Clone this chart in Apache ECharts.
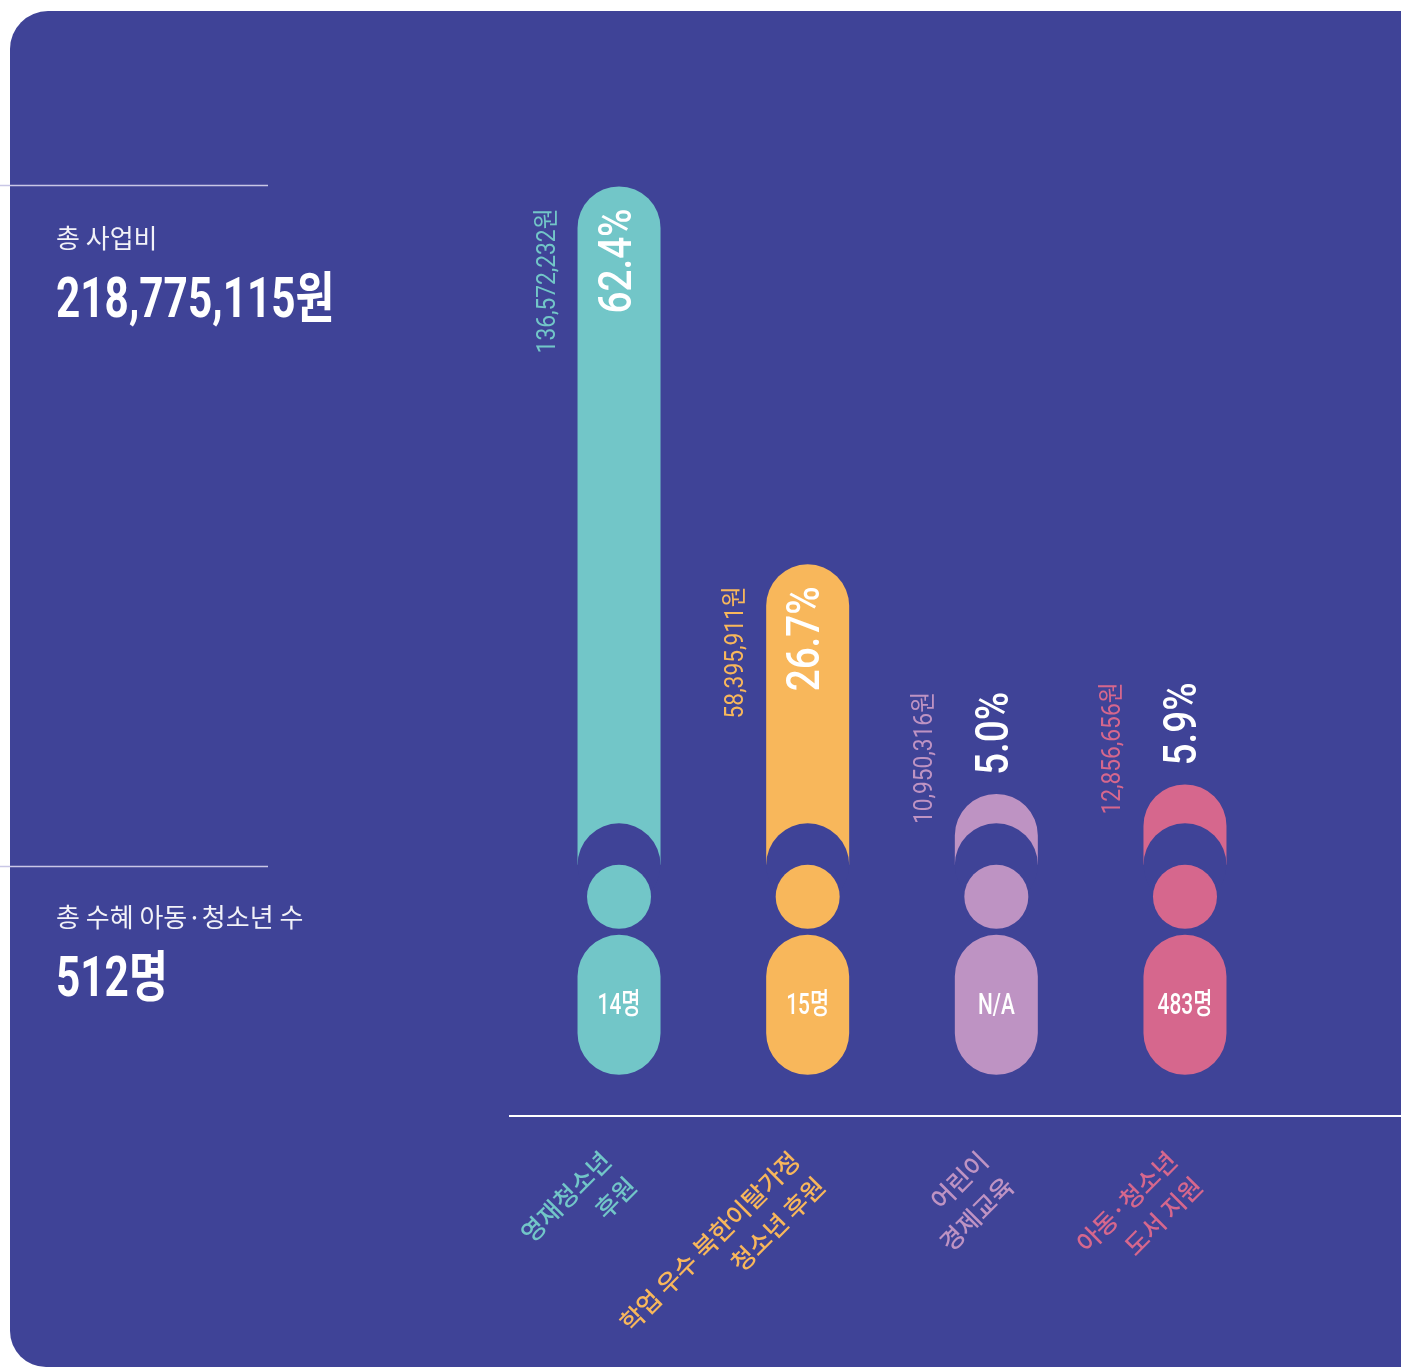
<!DOCTYPE html>
<html>
<head>
<meta charset="utf-8">
<script src="https://cdn.jsdelivr.net/npm/echarts@6.0.0/dist/echarts.min.js"></script>
<style>
  html, body { margin: 0; padding: 0; background: #fff; }
  #chart { width: 1401px; height: 1367px; }
</style>
</head>
<body>
<div id="chart"></div>
<script>
// 사업별 예산 비중
const categories = ['영재청소년\n후원', '학업 우수 북한이탈가정\n청소년 후원', '어린이\n경제교육', '아동·청소년\n도서 지원']
const shares = [62.4, 26.7, 5.0, 5.9]
const amounts = ['136,572,232원', '58,395,911원', '10,950,316원', '12,856,656원']
const people = ['14명', '15명', 'N/A', '483명']
const colors = ['#72C6C8', '#F8B75B', '#BE93C3', '#D6678D']

const BG = '#3F4397'
const NUM_FONT = 'Roboto, "Noto Sans CJK KR", sans-serif'
const KR_FONT = '"Noto Sans CJK KR", sans-serif'

const chart = echarts.init(document.getElementById('chart'))

function renderPerson (params, api) {
  const i = api.value(0)
  const v = api.value(1)
  const top = api.coord([i, v])
  const cx = top[0]
  const ty = top[1]
  const shoulder = api.coord([i, 0])[1] + 18
  const bw = api.size([1, 0])[0] * 0.44
  const r = bw / 2
  const color = colors[i]
  // tall bars carry their labels inside, short ones above
  const textTop = v > 20 ? ty + 22 : ty - 102

  return {
    type: 'group',
    children: [
      {
        type: 'rect',
        shape: { x: cx - r, y: ty, width: bw, height: shoulder - ty, r: [r, r, 0, 0] },
        style: { fill: color }
      },
      {
        type: 'circle',
        shape: { cx: cx, cy: shoulder, r: r },
        style: { fill: BG }
      },
      {
        type: 'circle',
        shape: { cx: cx, cy: shoulder + 32, r: 32 },
        style: { fill: color }
      },
      {
        type: 'rect',
        shape: { x: cx - r, y: shoulder + 70, width: bw, height: 140, r: r },
        style: { fill: color }
      },
      {
        type: 'text',
        x: cx,
        y: shoulder + 142,
        scaleX: 0.72,
        style: {
          text: people[i], fill: '#fff', fontSize: 29, fontFamily: NUM_FONT,
          fontWeight: 500, align: 'center', verticalAlign: 'middle'
        }
      },
      {
        type: 'text',
        x: cx,
        y: textTop,
        rotation: Math.PI / 2,
        scaleX: 0.84,
        style: {
          text: v.toFixed(1) + '%', fill: '#fff', fontSize: 46, fontFamily: NUM_FONT,
          fontWeight: 500, align: 'right', verticalAlign: 'middle'
        }
      },
      {
        type: 'text',
        x: cx - 71,
        y: textTop,
        rotation: Math.PI / 2,
        scaleX: 0.875,
        style: {
          text: amounts[i], fill: color, fontSize: 26, fontFamily: NUM_FONT,
          align: 'right', verticalAlign: 'middle'
        }
      }
    ]
  }
}

const option = {
  backgroundColor: '#fff',
  animation: false,
  grid: { left: 524.7, right: 121.7, top: 106, bottom: 520 },
  xAxis: {
    type: 'category',
    data: categories,
    z: 10,
    axisLine: { show: false },
    axisTick: { show: false },
    axisLabel: {
      interval: 0,
      rotate: 45,
      margin: 322,
      fontSize: 25,
      lineHeight: 36,
      fontWeight: 500,
      fontFamily: KR_FONT,
      color: (val, idx) => colors[idx]
    }
  },
  yAxis: {
    type: 'value',
    min: 0,
    max: 70,
    show: false
  },
  graphic: [
    {
      type: 'rect', z: -10,
      shape: { x: 10, y: 11, width: 1420, height: 1356, r: [38, 0, 0, 36] },
      style: { fill: BG }
    },
    { type: 'line', z: -5, shape: { x1: 0, y1: 185.5, x2: 268, y2: 185.5 }, style: { stroke: '#C9C7E6', lineWidth: 1.5 } },
    { type: 'line', z: -5, shape: { x1: 0, y1: 866.5, x2: 268, y2: 866.5 }, style: { stroke: '#C9C7E6', lineWidth: 1.5 } },
    { type: 'line', z: -5, shape: { x1: 509, y1: 1116, x2: 1401, y2: 1116 }, style: { stroke: '#fff', lineWidth: 2 } },
    {
      type: 'text', x: 56, y: 238,
      style: { text: '총 사업비', fill: '#F2F2F8', fontSize: 26, fontFamily: KR_FONT, verticalAlign: 'middle' }
    },
    {
      type: 'text', x: 56, y: 303, scaleX: 0.77,
      style: { text: '218,775,115원', fill: '#fff', fontSize: 55, fontWeight: 'bold', fontFamily: NUM_FONT, verticalAlign: 'middle' }
    },
    {
      type: 'text', x: 56, y: 917,
      style: { text: '총 수혜 아동·청소년 수', fill: '#F2F2F8', fontSize: 26, fontFamily: KR_FONT, verticalAlign: 'middle' }
    },
    {
      type: 'text', x: 56, y: 982, scaleX: 0.77,
      style: { text: '512명', fill: '#fff', fontSize: 55, fontWeight: 'bold', fontFamily: NUM_FONT, verticalAlign: 'middle' }
    }
  ],
  series: [
    {
      type: 'custom',
      renderItem: renderPerson,
      encode: { x: 0, y: 1 },
      data: shares.map((s, i) => [i, s])
    }
  ]
}

chart.setOption(option)
</script>
</body>
</html>
